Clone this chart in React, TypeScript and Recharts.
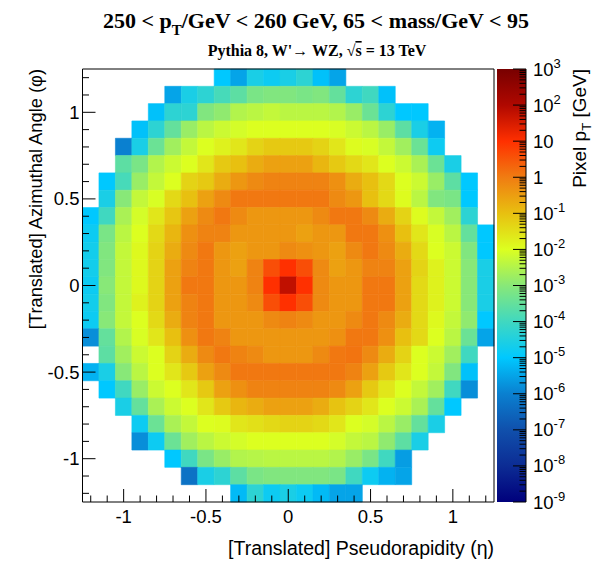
import { ScatterChart, Scatter, XAxis, YAxis, ReferenceArea } from 'recharts'

const _ = null

// log10(pixel pT / GeV); rows run from phi = +1.25 (top) to -1.25, columns from eta = -1.25 to +1.25
const ROW_00 = [_, _, _, _, _, _, _, _, -5.0, -5.5, -4.6, -4.8, -4.6, -4.3, -5.1, -5.5, _, _, _, _, _, _, _, _, _]
const ROW_01 = [_, _, _, _, _, -5.5, -4.6, -4.3, -3.9, -3.6, -3.2, -3.1, -3.1, -3.2, -3.1, -3.5, -4.3, -4.0, -5.1, _, _, _, _, _, _]
const ROW_02 = [_, _, _, _, -5.1, -4.3, -4.3, -3.1, -2.9, -2.5, -2.4, -2.3, -2.4, -2.4, -2.4, -2.5, -2.8, -3.4, -4.3, -5.0, -5.0, _, _, _, _]
const ROW_03 = [_, _, _, -5.1, -4.3, -3.5, -2.8, -2.4, -2.2, -2.1, -2.0, -2.0, -2.0, -2.0, -2.0, -2.05, -2.2, -2.4, -2.8, -3.6, -4.6, -5.3, _, _, _]
const ROW_04 = [_, _, -6.0, -4.6, -3.4, -2.7, -2.3, -2.0, -1.8, -1.6, -1.3, -1.15, -1.15, -1.15, -1.3, -1.6, -1.95, -2.05, -2.3, -2.7, -3.4, -4.8, _, _, _]
const ROW_05 = [_, _, -3.6, -3.2, -2.5, -2.2, -2.0, -1.6, -1.15, -1.0, -0.7, -0.55, -0.55, -0.55, -0.85, -1.15, -1.4, -1.6, -2.0, -2.2, -2.6, -3.4, -4.6, _, _]
const ROW_06 = [_, -5.0, -3.9, -2.8, -2.3, -2.0, -1.3, -1.15, -0.7, -0.4, -0.2, -0.1, -0.1, -0.1, -0.1, -0.3, -0.7, -1.0, -1.4, -2.0, -2.2, -2.8, -3.6, -5.0, _]
const ROW_07 = [_, -4.6, -3.0, -2.3, -2.05, -1.4, -1.0, -0.55, -0.2, 0.05, 0.05, 0.05, 0.05, 0.05, 0.05, -0.2, -0.4, -1.0, -1.4, -1.95, -2.4, -3.1, -3.2, -5.0, _]
const ROW_08 = [-5.0, -4.0, -2.6, -2.1, -1.6, -1.1, -0.55, -0.2, 0.05, -0.2, -0.4, -0.4, -0.4, -0.4, -0.2, 0.05, 0.05, -0.2, -0.7, -1.3, -1.95, -2.3, -2.7, -4.3, _]
const ROW_09 = [-4.8, -3.2, -2.4, -2.0, -1.4, -0.85, -0.3, -0.1, -0.1, -0.4, -0.4, -0.4, -0.4, -0.55, -0.4, -0.4, 0.05, 0.05, -0.3, -1.0, -1.6, -2.05, -2.4, -3.5, -5.0]
const ROW_10 = [-4.7, -3.1, -2.3, -1.9, -1.3, -0.7, -0.2, 0.05, -0.4, -0.55, -0.4, -0.4, -0.2, -0.3, -0.4, -0.55, -0.2, 0.05, -0.2, -0.7, -1.4, -2.0, -2.2, -3.1, -5.0]
const ROW_11 = [-4.7, -3.1, -2.3, -1.9, -1.3, -0.55, -0.1, 0.05, -0.4, -0.55, -0.1, 0.6, 1.0, 0.6, -0.2, -0.55, -0.4, -0.1, -0.1, -0.55, -1.3, -1.8, -2.2, -3.0, -4.6]
const ROW_12 = [-4.8, -3.0, -2.3, -1.9, -1.3, -0.55, 0.05, 0.05, -0.4, -0.4, -0.1, 1.0, 1.8, 1.0, -0.2, -0.4, -0.4, 0.05, 0.05, -0.55, -1.4, -1.8, -2.2, -3.0, -4.6]
const ROW_13 = [-4.7, -3.1, -2.3, -1.8, -1.3, -0.55, -0.1, 0.05, -0.4, -0.4, -0.2, 0.6, 1.0, 0.6, -0.2, -0.4, -0.4, 0.05, 0.05, -0.55, -1.4, -1.8, -2.2, -3.0, -4.6]
const ROW_14 = [-4.8, -3.0, -2.3, -2.0, -1.4, -0.7, -0.1, 0.05, -0.4, -0.4, -0.4, -0.2, -0.1, -0.2, -0.4, -0.4, -0.2, 0.05, -0.2, -0.7, -1.4, -1.9, -2.3, -2.9, -5.0]
const ROW_15 = [-5.8, -3.5, -2.5, -2.05, -1.6, -1.0, -0.3, 0.05, -0.1, -0.4, -0.4, -0.4, -0.4, -0.4, -0.4, -0.3, 0.05, 0.05, -0.3, -1.0, -1.4, -2.0, -2.4, -3.4, -5.5]
const ROW_16 = [_, -3.6, -2.7, -2.2, -2.0, -1.3, -0.7, -0.2, 0.05, -0.1, -0.2, -0.4, -0.4, -0.4, -0.2, 0.05, 0.1, -0.2, -0.7, -1.3, -2.0, -2.2, -2.7, -4.0, _]
const ROW_17 = [-5.3, -4.6, -3.0, -2.4, -2.0, -1.6, -1.15, -0.55, -0.2, 0.05, 0.05, 0.05, 0.05, 0.05, 0.05, 0.05, -0.1, -0.55, -1.15, -1.6, -2.0, -2.3, -3.1, -5.1, _]
const ROW_18 = [_, -5.0, -4.0, -2.8, -2.2, -2.0, -1.6, -1.15, -0.55, -0.3, -0.1, -0.1, -0.1, -0.1, -0.1, -0.2, -0.55, -1.15, -1.6, -2.0, -2.3, -2.7, -4.0, -5.8, _]
const ROW_19 = [_, _, -4.6, -3.5, -2.6, -2.2, -2.0, -1.6, -1.15, -0.85, -0.7, -0.55, -0.55, -0.55, -0.7, -1.05, -1.3, -1.6, -2.0, -2.2, -2.6, -3.5, -5.0, _, _]
const ROW_20 = [_, _, _, -4.8, -3.4, -2.6, -2.3, -2.0, -1.95, -1.6, -1.5, -1.4, -1.3, -1.3, -1.4, -1.6, -2.0, -2.1, -2.4, -2.8, -3.5, -4.6, _, _, _]
const ROW_21 = [_, _, _, -5.8, -4.8, -3.4, -2.7, -2.4, -2.2, -2.1, -2.0, -2.0, -2.0, -2.0, -2.0, -2.1, -2.3, -2.4, -2.9, -3.6, -4.6, _, _, _, _]
const ROW_22 = [_, _, _, _, _, -5.0, -4.0, -3.2, -2.8, -2.5, -2.45, -2.4, -2.4, -2.4, -2.4, -2.5, -2.8, -3.2, -4.0, -5.6, _, _, _, _, _]
const ROW_23 = [_, _, _, _, _, _, -6.3, -4.6, -4.3, -3.6, -3.2, -3.1, -3.1, -3.1, -3.1, -3.2, -4.0, -4.8, -5.3, -5.5, _, _, _, _, _]
const ROW_24 = [_, _, _, _, _, _, _, _, _, -5.2, -4.3, -4.8, -4.6, -4.8, -5.2, -5.5, -5.5, _, _, _, _, _, _, _, _]

const ROWS = [
  ROW_00, ROW_01, ROW_02, ROW_03, ROW_04, ROW_05, ROW_06, ROW_07, ROW_08, ROW_09,
  ROW_10, ROW_11, ROW_12, ROW_13, ROW_14, ROW_15, ROW_16, ROW_17, ROW_18, ROW_19,
  ROW_20, ROW_21, ROW_22, ROW_23, ROW_24,
]

const AXIS_MAJOR = [-1, -0.5, 0, 0.5, 1]
const AXIS_LABELS = ['-1', '-0.5', '0', '0.5', '1']
const Z_DECADES = [-9, -8, -7, -6, -5, -4, -3, -2, -1, 0, 1, 2, 3]

// colour stops (log10 value -> colour)
const PALETTE: [number, string][] = [
  [-9, '#00007c'], [-8, '#0c2c94'], [-7, '#1050ac'], [-6, '#0a80d0'], [-5, '#00c8ff'],
  [-4, '#40d8c0'], [-3, '#88e878'], [-2, '#dcff20'], [-1, '#e8c010'], [0, '#f07c12'],
  [1, '#ff3000'], [2, '#b00800'], [3, '#780000'],
]

const HALF = 1.25
const STEP = 0.1
const SANS = '"Liberation Sans", Arial, Helvetica, sans-serif'
const SERIF = '"Liberation Serif", "Times New Roman", serif'

function hex(c: string) {
  return [1, 3, 5].map(i => parseInt(c.slice(i, i + 2), 16))
}

function colour(v: number) {
  if (v <= PALETTE[0][0]) return PALETTE[0][1]
  for (let i = 1; i < PALETTE.length; i++) {
    const [v1, c1] = PALETTE[i]
    const [v0, c0] = PALETTE[i - 1]
    if (v <= v1) {
      const t = (v - v0) / (v1 - v0)
      const a = hex(c0), b = hex(c1)
      return `rgb(${a.map((x, k) => Math.round(x + (b[k] - x) * t)).join(',')})`
    }
  }
  return PALETTE[PALETTE.length - 1][1]
}

const cells = ROWS.flatMap((row, r) =>
  row.flatMap((v, c) => v == null ? [] : [{
    x: -HALF + (c + 0.5) * STEP, y: HALF - (r + 0.5) * STEP,
    x1: -HALF + c * STEP, x2: -HALF + (c + 1) * STEP,
    y1: HALF - (r + 1) * STEP, y2: HALF - r * STEP,
    fill: colour(v),
  }])
)

const zAnchor = [{ x: 0.5, z: 1 }]

const axisTicks: number[] = []
for (let i = -12; i <= 12; i++) axisTicks.push(+(i * STEP).toFixed(1))

const zTicks: number[] = []
Z_DECADES.forEach(d => {
  zTicks.push(Math.pow(10, d))
  if (d < 3) for (let m = 2; m <= 9; m++) zTicks.push(m * Math.pow(10, d))
})

const isMajor = (v: number) => Math.abs(v * 2 - Math.round(v * 2)) < 1e-6
const label = (v: number) => AXIS_LABELS[AXIS_MAJOR.findIndex(m => Math.abs(m - v) < 1e-6)]

function EtaTick({ x, y, payload }: any) {
  const major = isMajor(payload.value)
  return (
    <g>
      <line x1={x} x2={x} y1={y} y2={y - (major ? 13 : 6.5)} stroke="#000" strokeWidth={1} />
      {major && (
        <text x={x} y={y + 21} textAnchor="middle" fontSize={18.5} fontFamily={SANS} fill="#000">
          {label(payload.value)}
        </text>
      )}
    </g>
  )
}

function PhiTick({ x, y, payload }: any) {
  const major = isMajor(payload.value)
  return (
    <g>
      <line x1={x} x2={x + (major ? 13 : 6.5)} y1={y} y2={y} stroke="#000" strokeWidth={1} />
      {major && (
        <text x={x - 3} y={y + 6.5} textAnchor="end" fontSize={18.5} fontFamily={SANS} fill="#000">
          {label(payload.value)}
        </text>
      )}
    </g>
  )
}

function ZTick({ x, y, payload }: any) {
  const e = Math.log10(payload.value)
  const major = Math.abs(e - Math.round(e)) < 1e-9
  const k = Math.round(e)
  return (
    <g>
      <line x1={x} x2={x - (major ? 13 : 6.5)} y1={y} y2={y} stroke="#000" strokeWidth={1} />
      {major && (
        <text x={x + 7} y={y + 6.5} fontSize={18.5} fontFamily={SANS} fill="#000">
          {k === 0 ? '1' : '10'}
          {k !== 0 && k !== 1 && <tspan dy={-8} fontSize={13}>{k}</tspan>}
        </text>
      )}
    </g>
  )
}

const Empty = () => <g />

export default function App() {
  return (
    <div style={{ position: 'absolute', left: 0, top: 0, width: 601, height: 561, background: '#fff' }}>
      <div style={{ position: 'absolute', left: 0, top: 0 }}>
        <ScatterChart width={601} height={561} margin={{ top: 69, right: 107, bottom: 9, left: 22.5 }}>
          <XAxis
            type="number" dataKey="x" domain={[-HALF, HALF]} ticks={axisTicks} interval={0}
            height={50} tickSize={0} tickMargin={0} axisLine={false} tickLine={false} tick={<EtaTick />}
          />
          <YAxis
            type="number" dataKey="y" domain={[-HALF, HALF]} ticks={axisTicks} interval={0}
            width={60} tickSize={0} tickMargin={0} axisLine={false} tickLine={false} tick={<PhiTick />}
          />
          <Scatter data={cells} shape={<Empty />} isAnimationActive={false} />
          {cells.map((c, i) => (
            <ReferenceArea
              key={i} x1={c.x1} x2={c.x2} y1={c.y1} y2={c.y2}
              fill={c.fill} fillOpacity={1} stroke={c.fill} strokeWidth={0.6} ifOverflow="visible"
            />
          ))}
          <ReferenceArea
            x1={-HALF} x2={HALF} y1={-HALF} y2={HALF}
            fill="none" stroke="#000" strokeWidth={1} ifOverflow="visible"
          />
        </ScatterChart>
      </div>
      <div style={{ position: 'absolute', left: 0, top: 0 }}>
        <ScatterChart width={601} height={561} margin={{ top: 69, right: 0, bottom: 59, left: 497 }}>
          <defs>
            <linearGradient id="zpal" x1="0" y1="1" x2="0" y2="0">
              {PALETTE.map(([v, c]) => (
                <stop key={v} offset={(v - Z_DECADES[0]) / (Z_DECADES[Z_DECADES.length - 1] - Z_DECADES[0])} stopColor={c} />
              ))}
            </linearGradient>
          </defs>
          <XAxis type="number" dataKey="x" domain={[0, 1]} hide />
          <YAxis
            type="number" dataKey="z" scale="log" domain={[1e-9, 1e3]} allowDataOverflow
            orientation="right" ticks={zTicks} interval={0} width={75}
            tickSize={0} tickMargin={0} tickLine={false} axisLine={{ stroke: '#000' }} tick={<ZTick />}
          />
          <Scatter data={zAnchor} shape={<Empty />} isAnimationActive={false} />
          <ReferenceArea x1={0} x2={1} y1={1e-9} y2={1e3} fill="url(#zpal)" fillOpacity={1} ifOverflow="visible" />
        </ScatterChart>
      </div>
      <svg width={601} height={561} style={{ position: 'absolute', left: 0, top: 0, pointerEvents: 'none' }}>
        <text x={316} y={28} textAnchor="middle" fontSize={22} fontWeight="bold" fontFamily={SERIF}>
          250 &lt; p<tspan dy={7} fontSize={15}>T</tspan><tspan dy={-7}>/GeV &lt; 260 GeV, 65 &lt; mass/GeV &lt; 95</tspan>
        </text>
        <text x={317} y={56} textAnchor="middle" fontSize={16} fontWeight="bold" fontFamily={SERIF}>
          Pythia 8, W'{'\u2192'} WZ,  {'\u221A'}<tspan textDecoration="overline">s</tspan> = 13 TeV
        </text>
        <text x={494} y={555} textAnchor="end" fontSize={19.5} fontFamily={SANS}>
          [Translated] Pseudorapidity ({'\u03B7'})
        </text>
        <text transform="translate(42, 69) rotate(-90)" textAnchor="end" fontSize={18.3} fontFamily={SANS}>
          [Translated] Azimuthal Angle ({'\u03C6'})
        </text>
        <text transform="translate(586, 69) rotate(-90)" textAnchor="end" fontSize={19} fontFamily={SANS}>
          Pixel p<tspan dy={5} fontSize={13}>T</tspan><tspan dy={-5}> [GeV]</tspan>
        </text>
      </svg>
    </div>
  )
}
